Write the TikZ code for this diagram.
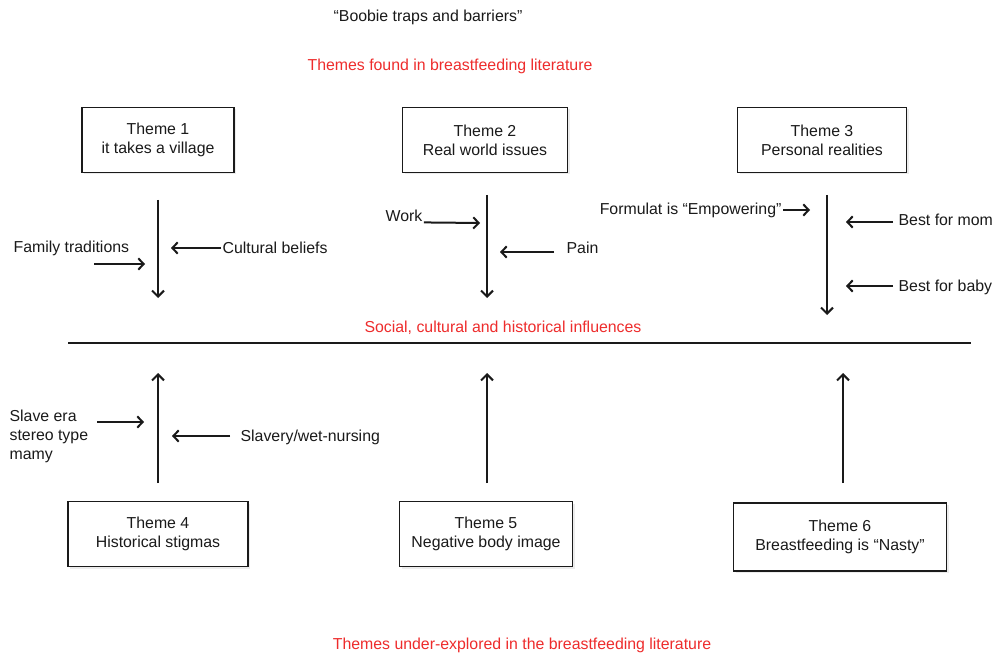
\documentclass[tikz,border=0pt]{standalone}
\usepackage{fontspec}
\setmainfont{Liberation Sans}
\usepackage{xcolor}
\usetikzlibrary{arrows.meta,positioning,shadows}
\definecolor{heading}{HTML}{EE2C2C}
\definecolor{ink}{HTML}{1A1A1A}
\tikzset{
  base/.style={font=\fontsize{11.9}{14.3}\selectfont, text=ink},
  theme/.style={base, draw=ink, line width=1.2pt, fill=white, align=center,
    drop shadow={shadow xshift=1.5pt, shadow yshift=-1.5pt, opacity=0.15}},
  caption/.style={base, text=heading},
  factor/.style={base, inner sep=1pt},
  flow/.style={line width=1.5pt, draw=ink, -{Straight Barb[length=4.5pt,width=9pt]}},
  push/.style={line width=1.5pt, draw=ink, -{Straight Barb[length=4pt,width=8.5pt]}}
}
\begin{document}
\begin{tikzpicture}[x=0.75pt,y=-0.75pt]
\path[use as bounding box] (0,0) rectangle (996,656);
\fill[white] (0,0) rectangle (996,656);

% headings
\node[base] (title) at (428,17) {``Boobie traps and barriers''};
\node[caption] (found) at (450,66) {Themes found in breastfeeding literature};
\node[caption] (social) at (503,328) {Social, cultural and historical influences};
\node[caption] (under) at (522,645) {Themes under-explored in the breastfeeding literature};

% themes above the line
\node[theme, minimum width=152*0.75pt, minimum height=65*0.75pt] (t1) at (158,140) {Theme 1\\ it takes a village};
\node[theme, minimum width=165*0.75pt, minimum height=65*0.75pt] (t2) at (485,140) {Theme 2\\ Real world issues};
\node[theme, minimum width=169*0.75pt, minimum height=65*0.75pt] (t3) at (822,140) {Theme 3\\ Personal realities};

% themes below the line
\node[theme, minimum width=180*0.75pt, minimum height=65*0.75pt] (t4) at (158,534) {Theme 4\\ Historical stigmas};
\node[theme, minimum width=173*0.75pt, minimum height=65*0.75pt] (t5) at (486,534) {Theme 5\\ Negative body image};
\node[theme, minimum width=213*0.75pt, minimum height=68*0.75pt] (t6) at (840,537) {Theme 6\\ Breastfeeding is ``Nasty''};

% the line
\coordinate (lineL) at (68,343);
\coordinate (lineR) at (971,343);
\draw[line width=1.6pt, ink] (lineL) -- (lineR);

% main arrows
\coordinate (d1a) at (158,200); \coordinate (d1b) at (158,298);
\coordinate (d2a) at (487,195); \coordinate (d2b) at (487,298);
\coordinate (d3a) at (827,195); \coordinate (d3b) at (827,315);
\coordinate (u1a) at (158,483); \coordinate (u1b) at (158,373);
\coordinate (u2a) at (487,483); \coordinate (u2b) at (487,373);
\coordinate (u3a) at (843,483); \coordinate (u3b) at (843,373);
\foreach \a/\b in {d1a/d1b,d2a/d2b,d3a/d3b,u1a/u1b,u2a/u2b,u3a/u3b}
  \draw[flow] (\a) -- (\b);

% factors, theme 1
\node[factor, anchor=west] (family) at (12,248) {Family traditions};
\node[factor, anchor=west] (cultural) at (221,248) {Cultural beliefs};
\coordinate (familyA) at (94,264); \coordinate (familyB) at (145,264);
\coordinate (culturalB) at (171,248);
\draw[push] (familyA) -- (familyB);
\draw[push] (cultural.west) -- (culturalB);

% factors, theme 2
\node[factor, anchor=west] (work) at (384,216) {Work};
\node[factor, anchor=west] (pain) at (565,248) {Pain};
\coordinate (workB) at (480,223);
\coordinate (painA) at (554,252); \coordinate (painB) at (500,252);
\draw[push] (work.south east) ++(0,-1) -- (workB);
\draw[push] (painA) -- (painB);

% factors, theme 3
\node[factor, anchor=east] (formula) at (783,210) {Formulat is ``Empowering''};
\node[factor, anchor=west] (mom) at (897,220) {Best for mom};
\node[factor, anchor=west] (baby) at (897,287) {Best for baby};
\coordinate (formulaB) at (810,210);
\coordinate (momA) at (893,222); \coordinate (momB) at (846,222);
\coordinate (babyA) at (893,286); \coordinate (babyB) at (846,286);
\draw[push] (formula.east) -- (formulaB);
\draw[push] (momA) -- (momB);
\draw[push] (babyA) -- (babyB);

% factors, theme 4
\node[factor, anchor=north west, align=left] (slaveera) at (8,408) {Slave era\\stereo type\\mamy};
\node[factor, anchor=west] (wetnurse) at (239,437) {Slavery/wet-nursing};
\coordinate (slaveA) at (97,422); \coordinate (slaveB) at (144,422);
\coordinate (wetA) at (230,436); \coordinate (wetB) at (172,436);
\draw[push] (slaveA) -- (slaveB);
\draw[push] (wetA) -- (wetB);
\end{tikzpicture}
\end{document}
